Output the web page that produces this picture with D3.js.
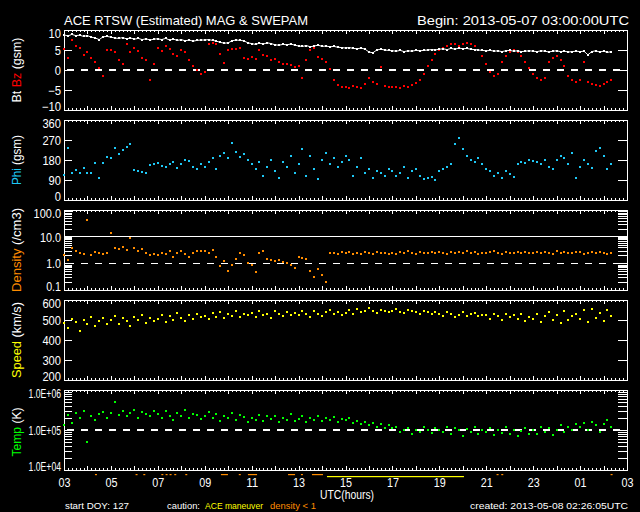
<!DOCTYPE html>
<html>
<head>
<meta charset="utf-8">
<script src="https://cdn.jsdelivr.net/npm/d3@7"></script>
<style>
body { margin: 0; background: #000; }
svg { display: block; }
text { font-family: "Liberation Sans", "DejaVu Sans", sans-serif; fill: #fff; font-size: 12px; }
.small { font-size: 9.5px; }
.head { font-size: 13px; }
</style>
</head>
<body>
<svg id="chart" width="640" height="512"></svg>
<script>
// samples every 10 minutes from 2013-05-07 03:00 UTC
var startTime = Date.UTC(2013, 4, 7, 3, 0, 0);
var stepMs = 10 * 60 * 1000;

var btValues = [
    8.8, 8.5, 8.9, 8.6, 8.7, 8.4, 8.6, 8.2, 8.0, 7.6, 8.3, 8.4,
    8.2, 8.0, 7.9, 8.1, 7.8, 8.0, 7.7, 7.9, 7.6, 7.8, 7.5, 7.7,
    7.8, 7.6, 7.9, 7.5, 7.7, 7.4, 7.6, 7.3, 7.5, 7.2, 7.4, 7.5,
    7.5, 7.6, 7.4, 7.2, 6.9, 6.7, 6.8, 7.3, 7.5, 7.4, 7.3, 6.8,
    6.6, 6.4, 6.7, 6.5, 6.8, 6.6, 6.3, 6.2, 6.4, 6.3, 6.5, 6.2,
    6.0, 5.9, 6.1, 5.8, 6.0, 6.2, 5.9, 6.0, 5.8, 5.9, 5.7, 5.6,
    5.5, 5.6, 5.4, 5.3, 5.5, 5.2, 4.5, 4.3, 5.0, 5.2, 5.0, 4.9,
    4.8, 4.7, 4.9, 4.6, 4.8, 4.7, 4.9, 4.8, 4.9, 5.0, 5.1, 5.0,
    5.2, 5.3, 5.1, 5.4, 5.2, 5.5, 5.3, 5.4, 5.2, 5.1, 5.0, 4.9,
    4.8, 4.9, 4.7, 4.8, 4.6, 4.8, 4.9, 4.7, 4.8, 4.6, 4.7, 4.8,
    4.7, 4.6, 4.8, 4.7, 4.5, 4.7, 4.8, 4.6, 4.7, 4.5, 4.6, 4.7,
    4.6, 4.7, 3.8, 4.6, 4.8, 4.5, 4.7, 4.4, 4.6
];

var bzValues = [
    5.2, 3.0, 7.5, 6.0, 5.5, 3.8, 4.6, 3.0, 2.0, 0.5, -1.5, 5.0,
    5.0, 4.5, 2.5, 1.5, 6.5, 4.5, 5.5, 4.8, 3.0, 2.5, -2.5, 1.5,
    5.5, 4.8, 6.0, 5.2, 4.0, 3.5, 5.0, 4.5, 2.5, 1.0, 0.0, -1.0,
    -0.5, 6.5, 6.8, 6.5, 4.0, 1.8, 5.0, 5.3, 5.2, 5.5, 3.0, 2.8,
    3.2, 2.8, 5.0, 3.8, 3.5, 2.5, 2.8, 2.0, 1.6, 1.4, 1.2, 0.8,
    1.0, -2.0, 2.5, 5.0, 5.5, 3.2, 2.8, 2.0, 0.2, -2.5, -3.8, -4.2,
    -4.2, -4.5, -4.0, -4.3, -4.5, -3.5, -2.0, -3.0, -3.5, 0.8, -4.0, -4.3,
    -4.3, -4.2, -4.5, -4.0, -4.3, -3.8, -3.2, -2.5, -1.0, 1.0, 2.5, 4.0,
    5.0, 5.5, 6.0, 6.5, 6.5, 6.0, 6.5, 6.8, 6.5, 6.0, 5.0, 3.5,
    1.5, -0.5, -1.5, -1.0, 2.0, 3.5, 4.5, 5.0, 4.5, 3.5, 2.0, 0.5,
    -1.0, -2.0, -2.5, -2.0, 2.0, 3.0, 3.5, 2.5, 1.0, -1.5, -2.5, -3.0,
    -2.5, 2.0, -3.0, -3.5, -3.8, -4.0, -3.5, -3.0, -2.5
];

var phiValues = [
    112, 234, 121, 135, 121, 144, 121, 121, 166, 99, 166, 193,
    190, 234, 205, 225, 240, 250, 135, 130, 125, 121, 157, 160,
    165, 155, 150, 160, 170, 145, 160, 180, 175, 150, 140, 160,
    150, 170, 190, 140, 200, 210, 190, 256, 215, 195, 205, 180,
    160, 140, 170, 110, 150, 180, 130, 100, 170, 150, 200, 120,
    160, 230, 110, 200, 140, 95, 180, 210, 160, 190, 150, 170,
    200, 180, 110, 150, 190, 120, 140, 100, 130, 120, 110, 140,
    130, 110, 120, 150, 100, 130, 140, 110, 95, 100, 105, 90,
    130, 140, 150, 160, 250, 280, 230, 200, 180, 170, 190, 160,
    140, 130, 110, 120, 100, 130, 115, 105, 160, 170, 165, 180,
    175, 170, 160, 180, 150, 140, 180, 200, 190, 160, 210, 100,
    150, 180, 160, 145, 220, 235, 200, 140, 160
];

var densityValues = [
    2.0, 1.3, 3.7, 3.0, 2.5, 2.2, 42, 2.0, 2.6, 2.4, 2.3, 2.5,
    14, 3.7, 3.5, 4.0, 3.2, 9.0, 3.7, 3.0, 3.5, 2.5, 2.0, 2.2,
    2.0, 2.5, 2.2, 2.8, 1.8, 2.5, 3.0, 2.2, 1.7, 2.5, 3.0, 2.8,
    3.0, 2.5, 3.2, 1.8, 0.8, 1.2, 0.5, 0.9, 1.5, 2.5, 2.0, 1.0,
    0.86, 0.47, 2.4, 3.0, 1.45, 1.3, 1.2, 1.3, 1.1, 1.0, 0.86, 0.66,
    1.7, 1.6, 1.4, 0.5, 0.3, 0.6, 0.35, 0.2, 2.4, 2.5, 2.3, 2.6,
    2.4, 2.6, 2.3, 2.5, 2.2, 2.6, 2.4, 2.3, 2.7, 2.5, 2.4, 2.2,
    2.5, 2.3, 2.6, 2.4, 2.8, 2.5, 2.3, 2.6, 2.4, 2.5, 2.7, 2.4,
    2.6, 2.5, 2.3, 2.7, 2.4, 2.6, 2.5, 2.8, 2.4, 2.6, 2.3, 2.5,
    2.4, 2.6, 2.8, 2.5, 2.3, 2.6, 2.5, 2.4, 2.7, 2.5, 2.6, 2.4,
    2.5, 2.7, 2.4, 2.6, 2.5, 2.3, 2.8, 2.5, 2.6, 2.4, 2.5, 2.7,
    2.6, 2.2, 2.5, 2.7, 2.4, 2.6, 2.5, 2.3, 2.4
];

var speedValues = [
    485, 460, 505, 490, 445, 500, 480, 515, 470, 495, 510, 480,
    500, 520, 480, 510, 495, 470, 515, 500, 525, 485, 510, 495,
    505, 525, 490, 520, 500, 535, 510, 495, 525, 505, 530, 515,
    520, 505, 535, 515, 540, 510, 530, 520, 545, 515, 530, 525,
    535, 515, 545, 525, 530, 510, 545, 530, 520, 540, 525, 535,
    525, 545, 530, 515, 545, 530, 520, 540, 550, 530, 540, 525,
    535, 550, 530, 555, 540, 545, 560, 545, 535, 550, 545, 540,
    545, 555, 540, 535, 550, 545, 540, 530, 545, 540, 530, 540,
    530, 520, 540, 530, 515, 525, 540, 520, 530, 535, 520, 525,
    525, 505, 530, 520, 500, 530, 515, 525, 505, 530, 495, 515,
    505, 530, 490, 520, 540, 500, 525, 485, 545, 500, 520, 530,
    505, 550, 490, 555, 510, 535, 495, 550, 520
];

var tempValues = [
    1.3e5, 2.4e5, 1.5e5, 2.6e5, 2.0e5, 3.0e5, 5.0e4, 2.2e5, 1.8e5, 2.5e5, 2.8e5, 2.0e5,
    2.7e5, 5.0e5, 2.4e5, 3.0e5, 2.2e5, 2.6e5, 3.2e5, 2.0e5, 2.8e5, 2.5e5, 2.2e5, 3.0e5,
    2.5e5, 2.0e5, 3.0e5, 2.3e5, 1.8e5, 2.6e5, 2.2e5, 3.2e5, 2.0e5, 2.5e5, 2.4e5, 1.9e5,
    2.2e5, 2.8e5, 2.0e5, 2.5e5, 1.7e5, 2.3e5, 2.0e5, 2.6e5, 1.8e5, 2.4e5, 2.1e5, 1.6e5,
    2.0e5, 1.8e5, 2.4e5, 1.7e5, 2.2e5, 1.9e5, 2.3e5, 1.6e5, 2.0e5, 1.8e5, 2.5e5, 1.7e5,
    1.9e5, 2.2e5, 1.6e5, 2.0e5, 1.8e5, 2.3e5, 1.7e5, 2.0e5, 1.8e5, 2.1e5, 1.6e5, 1.9e5,
    1.8e5, 2.0e5, 1.5e5, 1.7e5, 1.4e5, 1.6e5, 1.3e5, 1.5e5, 1.2e5, 1.4e5, 1.1e5, 1.3e5,
    1.1e5, 1.2e5, 9.0e4, 1.0e5, 1.1e5, 8.0e4, 1.0e5, 9.0e4, 1.2e5, 1.0e5, 8.5e4, 1.1e5,
    1.0e5, 9.0e4, 1.2e5, 8.0e4, 1.1e5, 1.0e5, 7.0e4, 1.05e5, 9.0e4, 1.2e5, 8.0e4, 1.0e5,
    9.0e4, 1.1e5, 7.5e4, 1.0e5, 8.5e4, 1.2e5, 8.0e4, 1.0e5, 7.0e4, 9.5e4, 1.1e5, 8.0e4,
    1.0e5, 8.0e4, 1.2e5, 9.0e4, 1.1e5, 7.5e4, 1.0e5, 1.3e5, 9.0e4, 1.2e5, 1.0e5, 1.4e5,
    1.2e5, 1.5e5, 1.0e5, 1.6e5, 1.3e5, 9.0e4, 1.4e5, 1.8e5, 1.2e5
];

// caution flags, in hours after 03:00 UTC
var densityLowSpans = [
    [1.32, 1.40], [3.05, 3.12], [3.38, 3.45], [4.15, 4.22], [4.33, 4.40], [4.50, 4.57],
    [4.70, 4.77], [5.17, 5.24], [6.69, 6.99], [7.45, 7.52], [7.84, 8.23], [9.55, 9.85],
    [10.10, 10.17], [10.57, 11.04], [18.44, 18.50], [18.64, 18.70], [23.30, 23.36]
];
var maneuverSpans = [[11.21, 17.05]];

var hourTickLabels = ["03", "05", "07", "09", "11", "13", "15", "17", "19", "21", "23", "01", "03"];

var svg = d3.select("#chart");
svg.append("rect").attr("width", 640).attr("height", 512).attr("fill", "#000");

var t0 = new Date(startTime), t1 = new Date(startTime + 24 * 3600 * 1000);
var x = d3.scaleUtc().domain([t0, t1]).range([64, 627]);
var left = 64, right = 627;

function timeAt(i) { return new Date(startTime + i * stepMs); }
function hourAt(h) { return new Date(startTime + h * 3600 * 1000); }

function logMinors(lo, hi) {
    var out = [];
    for (var d = lo; d < hi; d *= 10) {
        for (var k = 1; k < 10; k++) {
            var v = d * k;
            if (v > lo && v < hi) out.push(v);
        }
    }
    return out;
}

var tempFormat = function (d) {
    var e = Math.round(Math.log10(d));
    return "1.0E+" + (e < 10 ? "0" : "") + e;
};

// narrow, plotter-like label widths
function labelLen(s, cw) {
    var w = 0;
    for (var i = 0; i < s.length; i++) {
        var c = s[i];
        w += (c === ".") ? cw * 0.35 : (c === "\u2212" || c === "-") ? cw * 1.1 : cw;
    }
    return w;
}

var panels = [
    { top: 30, bottom: 110, y: d3.scaleLinear().domain([-10, 10]), labels: [-10, -5, 0, 5, 10], inner: [-5, 0, 5], fmt: d3.format("d"), cw: 6.2, dashed: 0 },
    { top: 120, bottom: 200, y: d3.scaleLinear().domain([0, 360]), labels: [0, 90, 180, 270, 360], inner: [90, 180, 270], fmt: d3.format("d"), cw: 6.2 },
    { top: 210, bottom: 290, y: d3.scaleLog().domain([0.1, 100]), labels: [0.1, 1, 10, 100], inner: logMinors(0.1, 100), fmt: d3.format(".1f"), cw: 6.3, dashed: 1, solid: 10 },
    { top: 300, bottom: 380, y: d3.scaleLinear().domain([200, 600]), labels: [200, 300, 400, 500, 600], inner: [300, 400, 500], fmt: d3.format("d"), cw: 6.2 },
    { top: 390, bottom: 470, y: d3.scaleLog().domain([1e4, 1e6]), labels: [1e4, 1e5, 1e6], inner: logMinors(1e4, 1e6), fmt: tempFormat, cw: 5.1, dashed: 1e5 }
];

var labelHours = d3.range(0, 25, 2).map(hourAt);

panels.forEach(function (p) {
    p.y.range([p.bottom, p.top]);
    var g = svg.append("g").attr("color", "#fff").attr("shape-rendering", "crispEdges");

    // time ticks along top and bottom edges
    [[d3.axisBottom, p.top], [d3.axisTop, p.bottom]].forEach(function (a) {
        g.append("g").attr("transform", "translate(0," + a[1] + ")")
            .call(a[0](x).ticks(d3.utcMinute.every(10)).tickSize(2).tickFormat(""))
            .call(function (s) { s.select(".domain").remove(); });
        g.append("g").attr("transform", "translate(0," + a[1] + ")")
            .call(a[0](x).ticks(d3.utcHour.every(1)).tickSize(4).tickFormat(""))
            .call(function (s) { s.select(".domain").remove(); });
    });

    // value ticks inside left and right edges
    g.append("g").attr("transform", "translate(" + left + ",0)")
        .call(d3.axisRight(p.y).tickValues(p.inner).tickSize(8).tickFormat(""))
        .call(function (s) { s.select(".domain").remove(); });
    g.append("g").attr("transform", "translate(" + right + ",0)")
        .call(d3.axisLeft(p.y).tickValues(p.inner).tickSize(9).tickFormat(""))
        .call(function (s) { s.select(".domain").remove(); });

    // tick labels, kept inside the panel height at the ends
    var lab = g.append("g").attr("transform", "translate(" + (left - 3) + ",0)")
        .call(d3.axisLeft(p.y).tickValues(p.labels).tickSize(0).tickPadding(0).tickFormat(p.fmt));
    lab.select(".domain").remove();
    lab.attr("font-size", null).attr("font-family", null);
    lab.selectAll("text")
        .attr("y", function (d) {
            var py = p.y(d);
            if (py - 4.5 < p.top) return p.top + 4 - py;
            if (py + 4.5 > p.bottom) return p.bottom - 3.5 - py;
            return 0.5;
        })
        .attr("textLength", function () { return labelLen(this.textContent, p.cw); })
        .attr("lengthAdjust", "spacingAndGlyphs");

    if (p.solid !== undefined) {
        g.append("line").attr("x1", left).attr("x2", right)
            .attr("y1", p.y(p.solid)).attr("y2", p.y(p.solid)).attr("stroke", "#fff");
    }
    if (p.dashed !== undefined) {
        g.append("line").attr("x1", left + 3).attr("x2", right)
            .attr("y1", p.y(p.dashed)).attr("y2", p.y(p.dashed))
            .attr("stroke", "#fff").attr("stroke-width", 1.5).attr("stroke-dasharray", "7,7");
    }

    g.append("rect").attr("x", left).attr("y", p.top).attr("width", right - left).attr("height", p.bottom - p.top)
        .attr("fill", "none").attr("stroke", "#fff");
});

function drawPoints(values, p, color) {
    var pts = values.map(function (v, i) { return [i, v]; }).filter(function (d) { return d[1] != null; });
    svg.append("g").attr("shape-rendering", "crispEdges").selectAll("rect").data(pts).join("rect")
        .attr("x", function (d) { return Math.round(x(timeAt(d[0]))) - 1; })
        .attr("y", function (d) { return Math.round(p.y(d[1])) - 1; })
        .attr("width", 2).attr("height", 2).attr("fill", color);
}

drawPoints(bzValues, panels[0], "#ff0000");
svg.append("path")
    .datum(btValues)
    .attr("fill", "none").attr("stroke", "#fff").attr("stroke-width", 1)
    .attr("d", d3.line().x(function (d, i) { return x(timeAt(i)); }).y(function (d) { return panels[0].y(d); }));
drawPoints(btValues, panels[0], "#ffffff");
drawPoints(phiValues, panels[1], "#1ec8f5");
drawPoints(densityValues, panels[2], "#ff8c00");
drawPoints(speedValues, panels[3], "#ffff00");
drawPoints(tempValues, panels[4], "#00ff00");

// hour labels under the last panel
var xa = svg.append("g").attr("transform", "translate(0,470)")
    .call(d3.axisBottom(x).tickValues(labelHours).tickSize(0).tickPadding(8)
        .tickFormat(function (d, i) { return hourTickLabels[i]; }));
xa.select(".domain").remove();
xa.attr("font-size", null).attr("font-family", null);
xa.selectAll("text").attr("textLength", 12).attr("lengthAdjust", "spacingAndGlyphs");

// caution marks
svg.append("g").selectAll("rect").data(densityLowSpans).join("rect")
    .attr("x", function (d) { return x(hourAt(d[0])); })
    .attr("width", function (d) { return Math.max(2, x(hourAt(d[1])) - x(hourAt(d[0]))); })
    .attr("y", 474).attr("height", 1.2).attr("fill", "#ff8c00");
svg.append("g").selectAll("rect").data(maneuverSpans).join("rect")
    .attr("x", function (d) { return x(hourAt(d[0])); })
    .attr("width", function (d) { return x(hourAt(d[1])) - x(hourAt(d[0])); })
    .attr("y", 476).attr("height", 1.2).attr("fill", "#ffff00");

// header
svg.append("text").attr("class", "head").attr("x", 64).attr("y", 25)
    .attr("textLength", 244).attr("lengthAdjust", "spacingAndGlyphs")
    .text("ACE RTSW (Estimated) MAG & SWEPAM");
svg.append("text").attr("class", "head").attr("x", 417).attr("y", 25)
    .attr("textLength", 212).attr("lengthAdjust", "spacingAndGlyphs")
    .text("Begin: 2013-05-07 03:00:00UTC");

// y titles
var titles = [
    { c: 70, len: 65, parts: [["Bt ", "#fff"], ["Bz", "#ff0000"], [" (gsm)", "#fff"]] },
    { c: 160, len: 50, parts: [["Phi", "#1ec8f5"], [" (gsm)", "#fff"]] },
    { c: 250, len: 84, parts: [["Density", "#ff8c00"], [" (/cm3)", "#fff"]] },
    { c: 340, len: 76, parts: [["Speed", "#ffff00"], [" (km/s)", "#fff"]] },
    { c: 432, len: 49, parts: [["Temp", "#00ff00"], [" (K)", "#fff"]] }
];
titles.forEach(function (t) {
    var tx = svg.append("text").attr("x", 21).attr("y", t.c).attr("text-anchor", "middle")
        .attr("transform", "rotate(-90,21," + t.c + ")")
        .attr("textLength", t.len).attr("lengthAdjust", "spacingAndGlyphs");
    t.parts.forEach(function (pt) {
        tx.append("tspan").style("fill", pt[1]).attr("xml:space", "preserve").text(pt[0]);
    });
});

// footer
svg.append("text").attr("x", 320).attr("y", 499).attr("textLength", 54).attr("lengthAdjust", "spacingAndGlyphs").text("UTC(hours)");
svg.append("text").attr("class", "small").attr("x", 65).attr("y", 509).attr("textLength", 64).attr("lengthAdjust", "spacingAndGlyphs").text("start DOY: 127");
svg.append("text").attr("class", "small").attr("x", 167).attr("y", 509).attr("textLength", 33).attr("lengthAdjust", "spacingAndGlyphs").text("caution:");
svg.append("text").attr("class", "small").attr("x", 205).attr("y", 509).attr("textLength", 58).attr("lengthAdjust", "spacingAndGlyphs").style("fill", "#ffff00").text("ACE maneuver");
svg.append("text").attr("class", "small").attr("x", 270).attr("y", 509).attr("textLength", 46).attr("lengthAdjust", "spacingAndGlyphs").style("fill", "#ff8c00").text("density < 1");
svg.append("text").attr("class", "small").attr("x", 470).attr("y", 509).attr("textLength", 158).attr("lengthAdjust", "spacingAndGlyphs").text("created: 2013-05-08 02:26:05UTC");
</script>
</body>
</html>
